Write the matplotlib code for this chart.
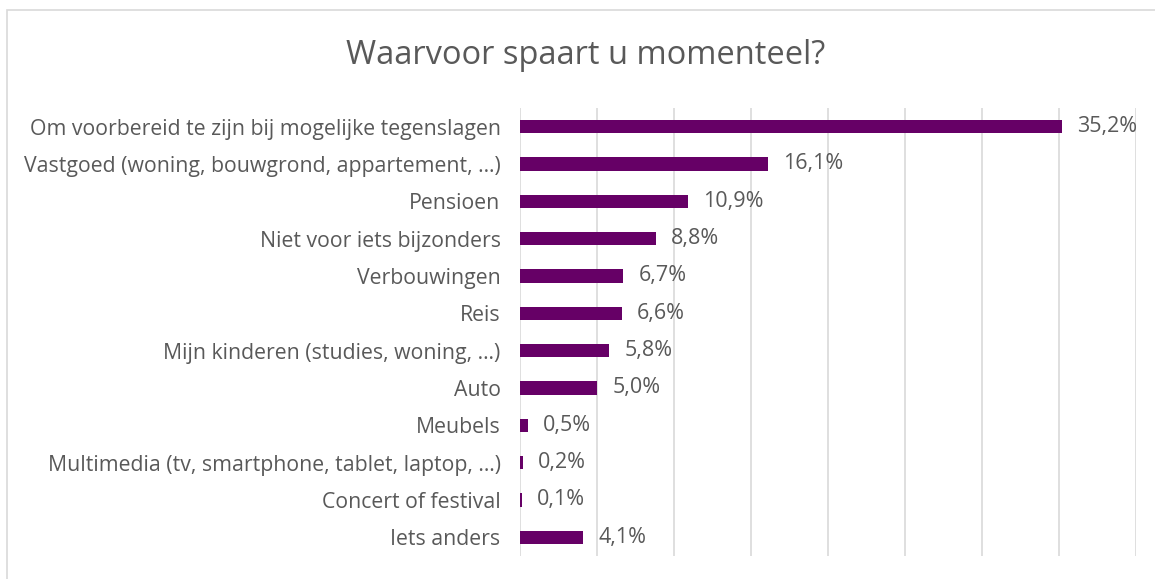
import matplotlib.pyplot as plt
from matplotlib.patches import Rectangle

# data
categories = [
    "Om voorbereid te zijn bij mogelijke tegenslagen",
    "Vastgoed (woning, bouwgrond, appartement, …)",
    "Pensioen",
    "Niet voor iets bijzonders",
    "Verbouwingen",
    "Reis",
    "Mijn kinderen (studies, woning, …)",
    "Auto",
    "Meubels",
    "Multimedia (tv, smartphone, tablet, laptop, …)",
    "Concert of festival",
    "Iets anders",
]
values = [35.2, 16.1, 10.9, 8.8, 6.7, 6.6, 5.8, 5.0, 0.5, 0.2, 0.1, 4.1]
value_labels = ["35,2%", "16,1%", "10,9%", "8,8%", "6,7%", "6,6%",
                "5,8%", "5,0%", "0,5%", "0,2%", "0,1%", "4,1%"]

BAR_COLOR = "#660066"
TEXT_COLOR = "#595959"
GRID_COLOR = "#d9d9d9"

plt.rcParams["font.family"] = ["Open Sans", "DejaVu Sans"]

fig = plt.figure(figsize=(11.55, 5.79), dpi=100)
ax = fig.add_axes([520 / 1155, 1 - 556 / 579, 616 / 1155, 448 / 579])

y = list(range(len(categories)))
ax.barh(y, values, height=0.35, color=BAR_COLOR)
ax.set_ylim(len(categories) - 0.5, -0.5)
ax.set_xlim(0, 40)
ax.set_xticks(range(0, 41, 5))
ax.set_xticklabels([])
ax.tick_params(axis="x", length=0)
ax.tick_params(axis="y", length=0, pad=14, labelsize=15.3, labelcolor=TEXT_COLOR)
ax.set_yticks(y)
ax.set_yticklabels(categories)
ax.grid(axis="x", color=GRID_COLOR, linewidth=1.2)
ax.set_axisbelow(True)
for s in ax.spines.values():
    s.set_visible(False)

for yi, v, lab in zip(y, values, value_labels):
    ax.annotate(lab, (v, yi), xytext=(11, 0), textcoords="offset points",
                va="center", ha="left", fontsize=15.5, color=TEXT_COLOR)

fig.text(586 / 1155, 1 - 55 / 579, "Waarvoor spaart u momenteel?",
         ha="center", va="center", fontsize=23.5, color=TEXT_COLOR)

# chart frame
fig.patches.append(Rectangle((7 / 1155, -0.1), 2, (579 - 10) / 579 + 0.1,
                             transform=fig.transFigure, fill=False,
                             edgecolor=GRID_COLOR, linewidth=1.2))

plt.savefig("out.png", dpi=100)
